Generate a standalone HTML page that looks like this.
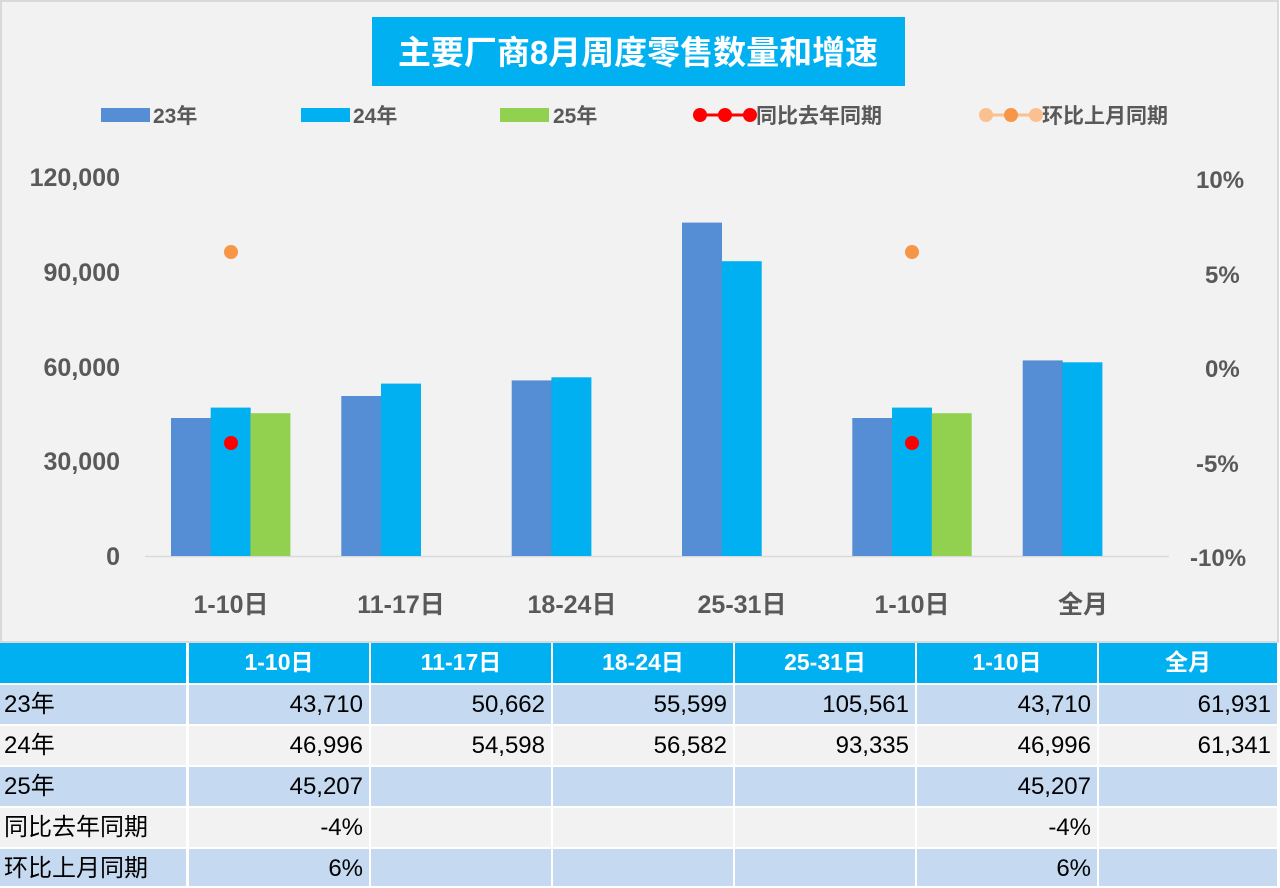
<!DOCTYPE html>
<html><head><meta charset="utf-8"><style>
body{margin:0;width:1280px;height:886px;background:#fff;position:relative;overflow:hidden;font-family:"Liberation Sans","Noto Sans CJK SC",sans-serif}
.c{position:absolute;box-sizing:border-box;font-size:24px;line-height:39px;color:#000;white-space:nowrap}
.h{background:#00b0f0;color:#fff;font-weight:bold;text-align:center;font-size:23px}
.b{background:#c5d9f1}.g{background:#f2f2f2}
.r{text-align:right;padding-right:6px}
.l{padding-left:4px}
</style></head><body>
<svg width="1280" height="643" style="position:absolute;left:0;top:0" font-family="Liberation Sans, Noto Sans CJK SC, sans-serif">
<rect x="1" y="1" width="1277" height="641" fill="#f2f2f2" stroke="#d9d9d9" stroke-width="2"/>
<rect x="372" y="17" width="533" height="69" fill="#00b0f0"/>
<text x="638" y="64" text-anchor="middle" font-size="33" font-weight="bold" fill="#fff">主要厂商8月周度零售数量和增速</text>
<g font-size="21" font-weight="bold" fill="#595959">
<rect x="101" y="108" width="49" height="14" fill="#558ed5"/><text x="153" y="123">23年</text>
<rect x="301" y="108" width="49" height="14" fill="#00b0f0"/><text x="353" y="123">24年</text>
<rect x="500" y="108" width="49" height="14" fill="#92d050"/><text x="553" y="123">25年</text>
<line x1="700" y1="115" x2="750" y2="115" stroke="#ff0000" stroke-width="3"/>
<circle cx="700" cy="115" r="7" fill="#ff0000"/><circle cx="725" cy="115" r="7" fill="#ff0000"/><circle cx="750" cy="115" r="7" fill="#ff0000"/>
<text x="756" y="123">同比去年同期</text>
<line x1="986" y1="115" x2="1036" y2="115" stroke="#fac090" stroke-width="3"/>
<circle cx="986" cy="115" r="7" fill="#fac090"/><circle cx="1011" cy="115" r="7" fill="#f79646"/><circle cx="1036" cy="115" r="7" fill="#fac090"/>
<text x="1042" y="123">环比上月同期</text>
</g>
<g font-size="25" font-weight="bold" fill="#595959" text-anchor="end">
<text x="120" y="186">120,000</text><text x="120" y="281">90,000</text><text x="120" y="376">60,000</text><text x="120" y="470">30,000</text><text x="120" y="565">0</text>
</g>
<g font-size="24" font-weight="bold" fill="#595959">
<text x="1196" y="188">10%</text><text x="1205" y="283">5%</text><text x="1205" y="377">0%</text><text x="1196" y="472">-5%</text><text x="1190" y="566">-10%</text>
</g>
<line x1="145" y1="556.5" x2="1169" y2="556.5" stroke="#d9d9d9" stroke-width="1.5"/>
<g>
<rect x="171" y="418" width="40" height="138" fill="#558ed5"/>
<rect x="210.7" y="407.6" width="40" height="148.4" fill="#00b0f0"/>
<rect x="250.4" y="413.2" width="40" height="142.8" fill="#92d050"/>
<rect x="341.3" y="396" width="40" height="160" fill="#558ed5"/>
<rect x="381" y="383.6" width="40" height="172.4" fill="#00b0f0"/>
<rect x="511.7" y="380.4" width="40" height="175.6" fill="#558ed5"/>
<rect x="551.4" y="377.3" width="40" height="178.7" fill="#00b0f0"/>
<rect x="682" y="222.6" width="40" height="333.4" fill="#558ed5"/>
<rect x="721.7" y="261.2" width="40" height="294.8" fill="#00b0f0"/>
<rect x="852.3" y="418" width="40" height="138" fill="#558ed5"/>
<rect x="892" y="407.6" width="40" height="148.4" fill="#00b0f0"/>
<rect x="931.7" y="413.2" width="40" height="142.8" fill="#92d050"/>
<rect x="1022.7" y="360.4" width="40" height="195.6" fill="#558ed5"/>
<rect x="1062.4" y="362.3" width="40" height="193.7" fill="#00b0f0"/>
</g>
<circle cx="231" cy="443" r="7" fill="#ff0000"/><circle cx="912" cy="443" r="7" fill="#ff0000"/>
<circle cx="231" cy="252" r="7" fill="#f79646"/><circle cx="912" cy="252" r="7" fill="#f79646"/>
<g font-size="25" font-weight="bold" fill="#595959" text-anchor="middle">
<text x="231" y="613">1-10日</text><text x="401" y="613">11-17日</text><text x="572" y="613">18-24日</text><text x="742" y="613">25-31日</text><text x="912" y="613">1-10日</text><text x="1083" y="613">全月</text>
</g>
</svg>
<div style="position:absolute;left:0;top:643px;width:1280px;height:243px;background:#fff"></div>
<div class="c h" style="left:0;top:643px;width:186px;height:40px"></div>
<div class="c h" style="left:189px;top:643px;width:180px;height:40px">1-10日</div>
<div class="c h" style="left:371px;top:643px;width:180px;height:40px">11-17日</div>
<div class="c h" style="left:553px;top:643px;width:180px;height:40px">18-24日</div>
<div class="c h" style="left:735px;top:643px;width:180px;height:40px">25-31日</div>
<div class="c h" style="left:917px;top:643px;width:180px;height:40px">1-10日</div>
<div class="c h" style="left:1099px;top:643px;width:178px;height:40px">全月</div>

<div class="c b l" style="left:0;top:685px;width:186px;height:39px">23年</div>
<div class="c b r" style="left:189px;top:685px;width:180px;height:39px">43,710</div>
<div class="c b r" style="left:371px;top:685px;width:180px;height:39px">50,662</div>
<div class="c b r" style="left:553px;top:685px;width:180px;height:39px">55,599</div>
<div class="c b r" style="left:735px;top:685px;width:180px;height:39px">105,561</div>
<div class="c b r" style="left:917px;top:685px;width:180px;height:39px">43,710</div>
<div class="c b r" style="left:1099px;top:685px;width:178px;height:39px">61,931</div>

<div class="c g l" style="left:0;top:726px;width:186px;height:39px">24年</div>
<div class="c g r" style="left:189px;top:726px;width:180px;height:39px">46,996</div>
<div class="c g r" style="left:371px;top:726px;width:180px;height:39px">54,598</div>
<div class="c g r" style="left:553px;top:726px;width:180px;height:39px">56,582</div>
<div class="c g r" style="left:735px;top:726px;width:180px;height:39px">93,335</div>
<div class="c g r" style="left:917px;top:726px;width:180px;height:39px">46,996</div>
<div class="c g r" style="left:1099px;top:726px;width:178px;height:39px">61,341</div>

<div class="c b l" style="left:0;top:767px;width:186px;height:39px">25年</div>
<div class="c b r" style="left:189px;top:767px;width:180px;height:39px">45,207</div>
<div class="c b r" style="left:371px;top:767px;width:180px;height:39px"></div>
<div class="c b r" style="left:553px;top:767px;width:180px;height:39px"></div>
<div class="c b r" style="left:735px;top:767px;width:180px;height:39px"></div>
<div class="c b r" style="left:917px;top:767px;width:180px;height:39px">45,207</div>
<div class="c b r" style="left:1099px;top:767px;width:178px;height:39px"></div>

<div class="c g l" style="left:0;top:808px;width:186px;height:39px">同比去年同期</div>
<div class="c g r" style="left:189px;top:808px;width:180px;height:39px">-4%</div>
<div class="c g r" style="left:371px;top:808px;width:180px;height:39px"></div>
<div class="c g r" style="left:553px;top:808px;width:180px;height:39px"></div>
<div class="c g r" style="left:735px;top:808px;width:180px;height:39px"></div>
<div class="c g r" style="left:917px;top:808px;width:180px;height:39px">-4%</div>
<div class="c g r" style="left:1099px;top:808px;width:178px;height:39px"></div>

<div class="c b l" style="left:0;top:849px;width:186px;height:37px">环比上月同期</div>
<div class="c b r" style="left:189px;top:849px;width:180px;height:37px">6%</div>
<div class="c b r" style="left:371px;top:849px;width:180px;height:37px"></div>
<div class="c b r" style="left:553px;top:849px;width:180px;height:37px"></div>
<div class="c b r" style="left:735px;top:849px;width:180px;height:37px"></div>
<div class="c b r" style="left:917px;top:849px;width:180px;height:37px">6%</div>
<div class="c b r" style="left:1099px;top:849px;width:178px;height:37px"></div>
</body></html>
